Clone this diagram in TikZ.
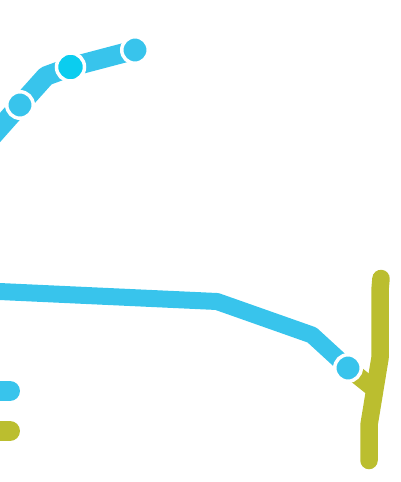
\documentclass[tikz,border=0pt]{standalone}
\definecolor{lineblue}{HTML}{38C4EC}
\definecolor{lineolive}{HTML}{BBBE2F}
\definecolor{brightblue}{HTML}{0BCDEF}
\tikzset{
  every picture/.style={x=1pt,y=-1pt},
  blueline/.style={draw=lineblue,line width=17pt,line join=round},
  topline/.style={blueline,line width=19.5pt},
  oliveline/.style={draw=lineolive,line width=17.5pt,line join=round,line cap=round},
  stop/.style={circle,draw=white,line width=3.5pt,fill=lineblue,minimum size=26.5pt,inner sep=0pt},
  brightstop/.style={stop,fill=brightblue,minimum size=28pt},
  legendbar/.style={line width=20pt,line cap=round}
}
\begin{document}
\begin{tikzpicture}
\useasboundingbox (0,0) rectangle (400,482);
\clip (0,0) rectangle (400,482);
\coordinate (t0) at (-12,141);
\coordinate (t1) at (46,76);
\coordinate (m0) at (-5,291.3);
\coordinate (m2) at (217,301.5);
\coordinate (m3) at (312,335);
\coordinate (y0) at (381,278.5);
\coordinate (y1) at (380,290);
\coordinate (y2) at (380,358);
\coordinate (y3) at (369,425);
\coordinate (y4) at (369,460.5);
\coordinate (y5) at (373,388);
\coordinate (b0) at (-15,391);
\coordinate (b1) at (10,391);
\coordinate (o0) at (-15,431);
\coordinate (o1) at (10,431);
\coordinate (pa) at (20,105);
\coordinate (pb) at (70.5,67);
\coordinate (pc) at (135,50);
\coordinate (pd) at (348,368);
\draw[topline] (t0) -- (pa) -- (t1) -- (pb) -- (pc);
\draw[blueline] (m0) -- (m2) -- (m3) -- (pd);
\draw[oliveline] (pd) -- (y5);
\draw[oliveline] (y0) -- (y1) -- (y2) -- (y3) -- (y4);
\draw[legendbar,lineblue] (b0) -- (b1);
\draw[legendbar,lineolive] (o0) -- (o1);
\node[stop] (na) at (pa) {};
\node[brightstop] (nb) at (pb) {};
\node[stop] (nc) at (pc) {};
\node[stop] (nd) at (pd) {};
\end{tikzpicture}
\end{document}
